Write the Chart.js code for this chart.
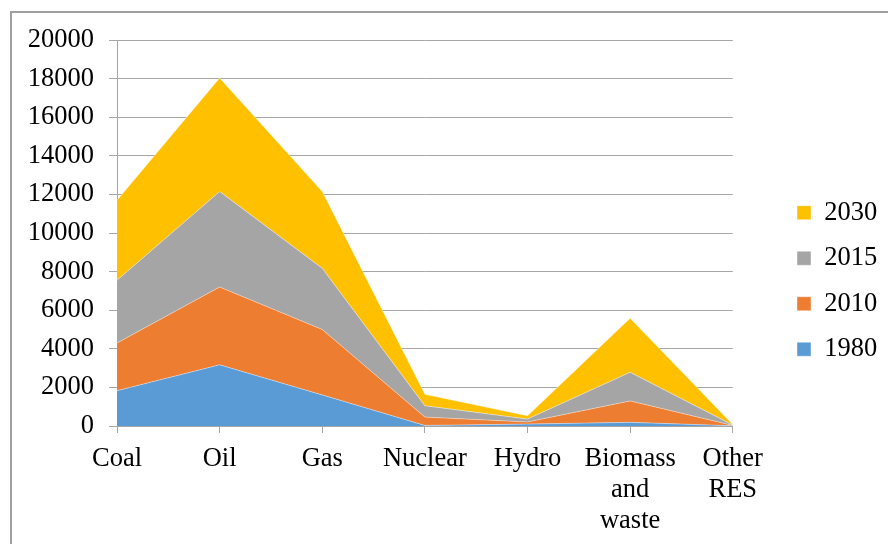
<!DOCTYPE html>
<html>
<head>
<meta charset="utf-8">
<title>Energy consumption by source</title>
<script src="https://cdn.jsdelivr.net/npm/chart.js@4/dist/chart.umd.min.js"></script>
<style>
  html, body { margin: 0; padding: 0; background: #ffffff; overflow: hidden; }
  #frame {
    position: absolute; left: 10px; top: 11px; width: 950px; height: 600px;
    border-left: 2px solid #a0a0a0; border-top: 2px solid #a0a0a0;
  }
  #wrap { position: absolute; left: 0; top: 0; width: 888px; height: 544px; }
</style>
</head>
<body>
<div id="frame"></div>
<div id="wrap"><canvas id="chart" width="888" height="544"></canvas></div>
<script>
// Energy sources on the category axis
const categories = ['Coal', 'Oil', 'Gas', 'Nuclear', 'Hydro', ['Biomass', 'and', 'waste'], ['Other', 'RES']];

// Series values (each layer stacked on top of the previous one)
const years = ['1980', '2010', '2015', '2030'];
const values1980 = [1830, 3170, 1610, 30, 100, 190, 10];
const values2010 = [2470, 4030, 3390, 430, 110, 1110, 20];
const values2015 = [3250, 4950, 3170, 590, 150, 1480, 20];
const values2030 = [4150, 5880, 3980, 590, 170, 2800, 30];

// Value axis tick range
const yMin = 0;
const yMax = 20000;
const yStep = 2000;

const seriesValues = [values1980, values2010, values2015, values2030];
const colors = ['#5b9bd5', '#ed7d31', '#a5a5a5', '#ffc000'];

const FONT = 'Liberation Serif, Times New Roman, serif';
const FONT_SIZE = 26.5;

// Keeps the legend column where the layout wants it
const legendPlacement = {
  id: 'legendPlacement',
  afterLayout(chart) {
    const lg = chart.legend;
    if (!lg) return;
    const w = lg.width;
    lg.left = 778;
    lg.right = lg.left + w;
    lg.top = 18;
    lg.bottom = 544;
  }
};

new Chart(document.getElementById('chart'), {
  type: 'line',
  data: {
    labels: categories,
    datasets: years.map((y, i) => ({
      label: y,
      data: seriesValues[i],
      backgroundColor: colors[i],
      borderColor: 'rgba(255,255,255,0.55)',
      borderWidth: 0.75,
      pointRadius: 0,
      tension: 0,
      fill: i === 0 ? 'origin' : '-1'
    }))
  },
  options: {
    responsive: false,
    animation: false,
    layout: { padding: { top: 40, right: 46, bottom: 0, left: 0 } },
    plugins: {
      tooltip: { enabled: false },
      legend: {
        position: 'right',
        reverse: true,
        labels: {
          boxWidth: 14,
          boxHeight: 14,
          padding: 19,
          color: '#000000',
          font: { family: FONT, size: FONT_SIZE }
        }
      }
    },
    scales: {
      x: {
        offset: false,
        grid: {
          display: true,
          drawOnChartArea: false,
          drawTicks: true,
          tickLength: 7,
          color: '#a6a6a6',
          offset: false
        },
        border: { display: true, color: '#a6a6a6' },
        ticks: {
          autoSkip: false,
          maxRotation: 0,
          minRotation: 0,
          padding: 11,
          color: '#000000',
          font: { family: FONT, size: FONT_SIZE, lineHeight: 1.17 }
        },
        afterFit(scale) { scale.height = 118; }
      },
      y: {
        stacked: true,
        min: yMin,
        max: yMax,
        ticks: {
          stepSize: yStep,
          padding: 15,
          color: '#000000',
          font: { family: FONT, size: FONT_SIZE },
          callback: (v) => String(v)
        },
        grid: {
          color: '#a6a6a6',
          tickLength: 8,
          drawTicks: true
        },
        border: { display: true, color: '#a6a6a6' },
        afterFit(scale) { scale.width = 117; }
      }
    }
  },
  plugins: [legendPlacement]
});
</script>
</body>
</html>
